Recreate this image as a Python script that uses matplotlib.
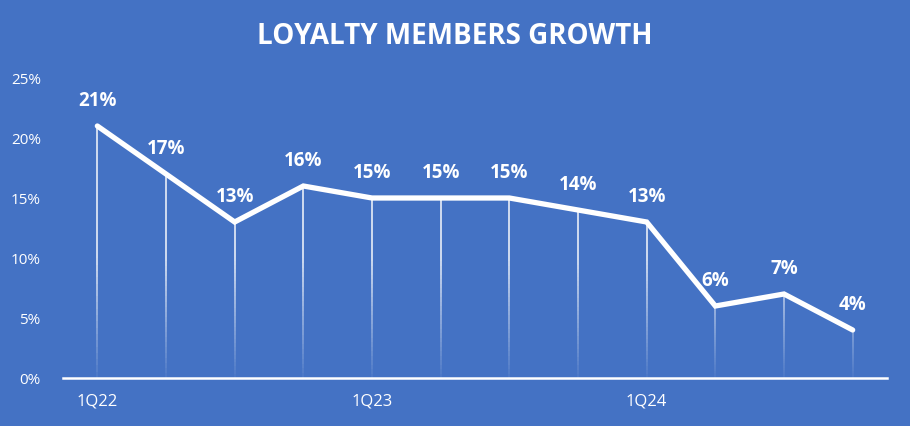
import numpy as np
import matplotlib.pyplot as plt
from matplotlib.ticker import FuncFormatter

quarters = ["1Q22", "2Q22", "3Q22", "4Q22", "1Q23", "2Q23", "3Q23", "4Q23",
            "1Q24", "2Q24", "3Q24", "4Q24"]
growth = [21, 17, 13, 16, 15, 15, 15, 14, 13, 6, 7, 4]
yticks = [0, 5, 10, 15, 20, 25]

bg = "#4472C4"
plt.rcParams['font.family'] = ['Open Sans', 'DejaVu Sans']

fig = plt.figure(figsize=(9.1, 4.26), dpi=100, facecolor=bg)
ax = fig.add_axes([63/910, 48/426, 824/910, 300/426])
ax.set_facecolor(bg)

x = np.arange(len(quarters))

# drop lines fading toward the axis
for xi, v in zip(x, growth):
    n = 40
    ys = np.linspace(0, v, n + 1)
    for j in range(n):
        mid = (ys[j] + ys[j+1]) / 2
        a = min(0.95, 0.05 + mid / 10 * 0.9)
        ax.plot([xi, xi], [ys[j], ys[j+1]], color="white", lw=1.1, alpha=a,
                solid_capstyle="butt", zorder=2)

ax.plot(x, growth, color="white", lw=3.8, solid_capstyle="round",
        solid_joinstyle="miter", zorder=3)

for xi, v in zip(x, growth):
    ax.annotate(f"{v}%", (xi, v), xytext=(0, 11), textcoords="offset points",
                ha="center", va="bottom", color="white", fontsize=13.5,
                fontweight="bold")

ax.set_xlim(-0.5, len(quarters) - 0.5)
ax.set_ylim(0, 25)
ax.set_yticks(yticks)
ax.yaxis.set_major_formatter(FuncFormatter(lambda v, p: f"{int(v)}%"))
ax.set_xticks([0, 4, 8])
ax.set_xticklabels([quarters[0], quarters[4], quarters[8]])
ax.tick_params(axis="y", length=0, colors="white", labelsize=11, pad=16)
ax.tick_params(axis="x", length=0, colors="white", labelsize=12, pad=11)

for s in ["top", "right", "left"]:
    ax.spines[s].set_visible(False)
ax.spines["bottom"].set_color("white")
ax.spines["bottom"].set_linewidth(1.8)

fig.text(455/910, 1 - 37/426, "LOYALTY MEMBERS GROWTH", ha="center",
         va="center", color="white", fontsize=20, fontweight="bold")

fig.savefig("out.png", dpi=100, facecolor=bg)
